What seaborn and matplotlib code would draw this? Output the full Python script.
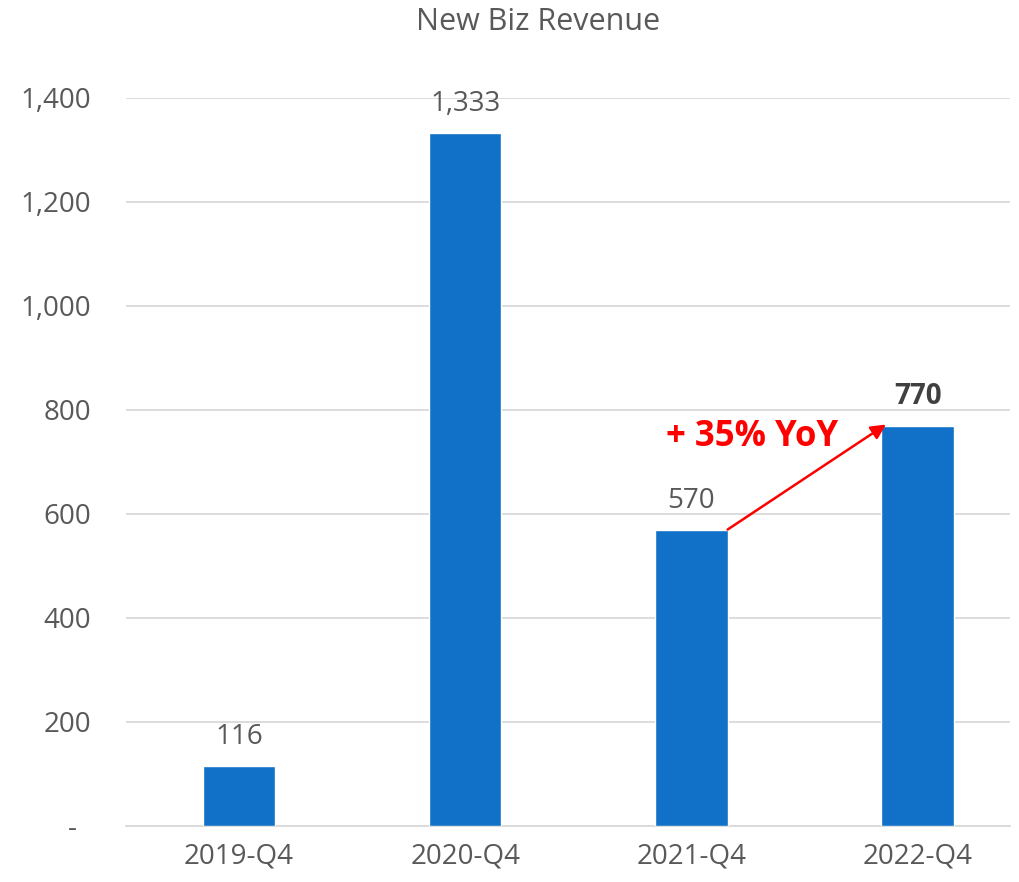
import matplotlib
matplotlib.use("Agg")
import matplotlib.pyplot as plt
import seaborn as sns
import pandas as pd

# data
quarters = ['2019-Q4', '2020-Q4', '2021-Q4', '2022-Q4']
revenue = [116, 1333, 570, 770]
y_ticks = [0, 200, 400, 600, 800, 1000, 1200, 1400]
y_tick_labels = ['-  ', '200', '400', '600', '800', '1,000', '1,200', '1,400']
yoy_label = '+ 35% YoY'

sns.set_theme(style='white')
plt.rcParams['font.family'] = ['Open Sans', 'DejaVu Sans']

text_grey = '#595959'
bar_blue = '#1170C7'

df = pd.DataFrame({'quarter': quarters, 'revenue': revenue})

fig = plt.figure(figsize=(10.2, 8.82), dpi=100)
ax = fig.add_axes([0.1235, 0.0635, 0.867, 0.8255])

sns.barplot(data=df, x='quarter', y='revenue', color=bar_blue,
            width=0.32, saturation=1, ax=ax, zorder=3)

ax.set_xlim(-0.5, 3.41)
ax.set_ylim(0, 1400)
ax.set_yticks(y_ticks)
ax.set_yticklabels(y_tick_labels)
ax.yaxis.grid(True, color='#D9D9D9', linewidth=1.3, zorder=0)
ax.set_axisbelow(True)
for s in ['top', 'right', 'left']:
    ax.spines[s].set_visible(False)
ax.spines['bottom'].set_color('#D9D9D9')
ax.spines['bottom'].set_linewidth(1.3)
ax.tick_params(axis='both', length=0, labelsize=20, colors=text_grey)
ax.tick_params(axis='x', pad=12)
ax.tick_params(axis='y', pad=25)
ax.set_xlabel('')
ax.set_ylabel('')

# value labels
for i, v in enumerate(revenue):
    bold = i == len(revenue) - 1
    ax.text(i, v + 28, f'{v:,}', ha='center', va='bottom', fontsize=20,
            color='#404040' if bold else text_grey,
            fontweight='bold' if bold else 'normal')

# YoY arrow
ax.annotate('', xy=(2.86, revenue[3] + 2), xytext=(2.16, revenue[2]),
            arrowprops=dict(arrowstyle='-|>', color='red', lw=1.8,
                            mutation_scale=22, shrinkA=0, shrinkB=0))
ax.text(2.27, 748, yoy_label, ha='center', va='center', fontsize=25,
        color='red', fontweight='bold')

fig.text(0.528, 0.975, 'New Biz Revenue', ha='center', va='center',
         fontsize=22, color=text_grey)

fig.savefig('out.png', dpi=100)
